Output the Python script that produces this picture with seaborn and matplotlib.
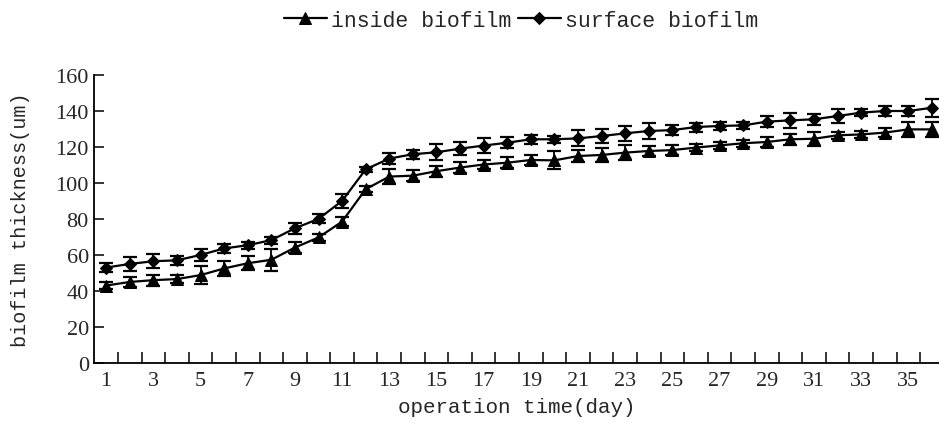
import numpy as np
import pandas as pd
import seaborn as sns
import matplotlib.pyplot as plt
from matplotlib.ticker import FixedLocator

# values
days = list(range(1, 37))
inside = [43, 45, 46, 46.6, 48.8, 52.5, 55.4, 57.3, 64.1, 69.7, 78.5, 96.5,
          103.5, 104, 106.5, 108.5, 110.2, 111.2, 112.7, 112.5, 114.9, 115.5,
          116.8, 117.7, 118.2, 119.6, 120.8, 122, 122.7, 124.2, 124.5, 126.4,
          126.9, 127.9, 129.7, 129.7]
inside_err = [2, 3, 3, 2, 5, 4, 4, 6, 3, 2, 2.5, 1.5, 4, 3, 3, 3, 2.5, 3,
              2.5, 5, 3.5, 4, 4, 3, 3, 2, 2, 2, 3, 3, 4, 2, 2, 2.5, 4, 4]
surface = [53, 55, 56.5, 57, 60, 63.6, 65.4, 68.2, 74.8, 80, 90, 107.5,
           113.5, 115.9, 117, 119, 120.7, 122.3, 124.2, 124.2, 124.7, 126,
           127.5, 128.8, 129.3, 131, 131.6, 131.9, 134, 134.7, 135.3, 137.1,
           139, 139.9, 139.9, 141.7]
surface_err = [2.5, 4, 4, 2.5, 3.5, 2.5, 2, 2, 3, 2.5, 4, 1.5, 3, 2.5, 4.5,
               3.5, 4, 3, 2.5, 2, 4.5, 4, 4, 4.5, 3, 2.5, 2, 2, 3, 4, 3, 4,
               2, 3, 3, 5]
labels = ["inside biofilm", "surface biofilm"]

df = pd.DataFrame({
    "day": days * 2,
    "thickness": inside + surface,
    "err": inside_err + surface_err,
    "series": [labels[0]] * len(days) + [labels[1]] * len(days),
})

sns.set_style("ticks")
plt.rcParams["font.family"] = ["Liberation Serif", "DejaVu Serif"]
label_font = ["Liberation Mono", "DejaVu Sans Mono"]

fig = plt.figure(figsize=(9.39, 4.27), dpi=100)
ax = fig.add_axes([0.1005, 0.1475, 0.8995, 0.675])

# error bars first, lines/markers on top
for name, grp in df.groupby("series"):
    ax.errorbar(grp["day"], grp["thickness"], yerr=grp["err"], fmt="none",
                ecolor="black", elinewidth=1.3, capsize=5, capthick=1.6,
                zorder=2)

sns.lineplot(data=df, x="day", y="thickness", hue="series", style="series",
             markers={labels[0]: "^", labels[1]: "D"}, dashes=False,
             palette=["black", "black"], linewidth=1.6, markersize=8,
             markeredgecolor="black", ax=ax, zorder=3, legend=True)

# make diamonds slightly smaller
for ln in ax.lines:
    if ln.get_marker() == "D":
        ln.set_markersize(6)

ax.set_xlim(0.5, 36.3)
ax.set_ylim(0, 160)
ax.set_yticks(np.arange(0, 161, 20))
ax.set_xticks(np.arange(1, 36, 2))
ax.xaxis.set_minor_locator(FixedLocator(np.arange(1.5, 36, 1)))
ax.tick_params(axis="x", which="major", length=0, labelsize=16, pad=6)
ax.tick_params(axis="x", which="minor", direction="in", length=8, width=1.3)
ax.tick_params(axis="y", direction="in", length=7, width=1.3, labelsize=16,
               pad=4)

sns.despine(ax=ax, top=True, right=True)
for s in ["left", "bottom"]:
    ax.spines[s].set_linewidth(1.3)
    ax.spines[s].set_color("black")

ax.set_xlabel("operation time(day)", fontsize=15, family=label_font,
              labelpad=5)
ax.set_ylabel("biofilm thickness(um)", fontsize=14.5, family=label_font,
              labelpad=18)

handles, lbls = ax.get_legend_handles_labels()
ax.get_legend().remove()
for h in handles:
    if h.get_marker() == "D":
        h.set_markersize(6)
fig.legend(handles, lbls, loc="center", bbox_to_anchor=(0.555, 0.95),
           ncol=2, frameon=False, handlelength=2.0, handletextpad=0.2,
           columnspacing=0.3, prop={"family": label_font, "size": 15.5})

fig.savefig("out.png", dpi=100, facecolor="white")
